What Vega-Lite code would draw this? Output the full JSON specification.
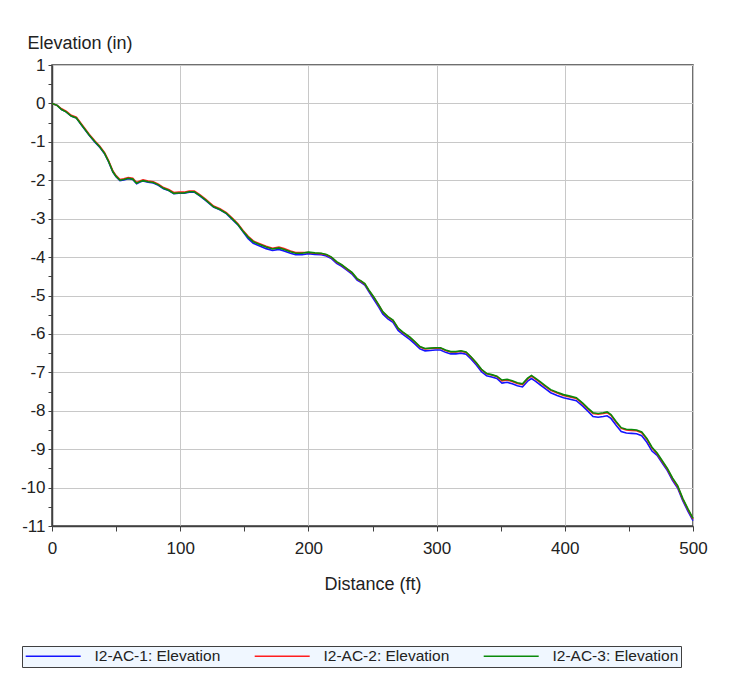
{
  "$schema": "https://vega.github.io/schema/vega-lite/v6.json",
  "width": 641,
  "height": 461,
  "autosize": {"type": "none"},
  "padding": {"left": 52, "top": 65, "right": 50, "bottom": 155},
  "background": "white",
  "config": {
    "font": "Liberation Sans",
    "view": {"stroke": "#404040", "strokeWidth": 1.5}
  },
  "data": {
    "values": [
      {"d": 0, "a": 0, "b": 0, "c": 0},
      {"d": 4, "a": -0.05, "b": -0.05, "c": -0.05},
      {"d": 7.5, "a": -0.16, "b": -0.14, "c": -0.16},
      {"d": 11, "a": -0.22, "b": -0.2, "c": -0.22},
      {"d": 15, "a": -0.33, "b": -0.31, "c": -0.33},
      {"d": 19, "a": -0.38, "b": -0.36, "c": -0.38},
      {"d": 24, "a": -0.61, "b": -0.58, "c": -0.6},
      {"d": 29, "a": -0.83, "b": -0.8, "c": -0.82},
      {"d": 33.5, "a": -1.01, "b": -0.98, "c": -1.0},
      {"d": 37, "a": -1.13, "b": -1.1, "c": -1.12},
      {"d": 41, "a": -1.31, "b": -1.28, "c": -1.3},
      {"d": 44, "a": -1.51, "b": -1.48, "c": -1.5},
      {"d": 47.5, "a": -1.79, "b": -1.76, "c": -1.78},
      {"d": 50, "a": -1.91, "b": -1.88, "c": -1.9},
      {"d": 53, "a": -2.01, "b": -1.98, "c": -2.0},
      {"d": 56, "a": -1.99, "b": -1.96, "c": -1.98},
      {"d": 59.5, "a": -1.96, "b": -1.93, "c": -1.95},
      {"d": 63, "a": -1.98, "b": -1.95, "c": -1.97},
      {"d": 66, "a": -2.09, "b": -2.06, "c": -2.08},
      {"d": 69, "a": -2.04, "b": -2.01, "c": -2.03},
      {"d": 71, "a": -2.02, "b": -1.99, "c": -2.01},
      {"d": 75, "a": -2.05, "b": -2.02, "c": -2.04},
      {"d": 79, "a": -2.07, "b": -2.04, "c": -2.06},
      {"d": 83, "a": -2.13, "b": -2.1, "c": -2.12},
      {"d": 87, "a": -2.22, "b": -2.19, "c": -2.21},
      {"d": 91, "a": -2.27, "b": -2.24, "c": -2.26},
      {"d": 95, "a": -2.35, "b": -2.32, "c": -2.34},
      {"d": 99, "a": -2.34, "b": -2.31, "c": -2.33},
      {"d": 103, "a": -2.34, "b": -2.31, "c": -2.33},
      {"d": 107, "a": -2.31, "b": -2.28, "c": -2.3},
      {"d": 111, "a": -2.31, "b": -2.28, "c": -2.3},
      {"d": 115, "a": -2.4, "b": -2.37, "c": -2.39},
      {"d": 120, "a": -2.53, "b": -2.5, "c": -2.52},
      {"d": 126, "a": -2.7, "b": -2.67, "c": -2.69},
      {"d": 131, "a": -2.77, "b": -2.74, "c": -2.76},
      {"d": 136, "a": -2.87, "b": -2.84, "c": -2.86},
      {"d": 141, "a": -3.03, "b": -3.0, "c": -3.02},
      {"d": 145, "a": -3.16, "b": -3.13, "c": -3.15},
      {"d": 149, "a": -3.34, "b": -3.31, "c": -3.33},
      {"d": 153, "a": -3.52, "b": -3.46, "c": -3.48},
      {"d": 157, "a": -3.64, "b": -3.58, "c": -3.6},
      {"d": 162, "a": -3.71, "b": -3.65, "c": -3.67},
      {"d": 167, "a": -3.78, "b": -3.72, "c": -3.74},
      {"d": 172, "a": -3.83, "b": -3.77, "c": -3.79},
      {"d": 177, "a": -3.8, "b": -3.74, "c": -3.76},
      {"d": 181, "a": -3.84, "b": -3.78, "c": -3.8},
      {"d": 186, "a": -3.9, "b": -3.84, "c": -3.86},
      {"d": 190, "a": -3.94, "b": -3.88, "c": -3.9},
      {"d": 195, "a": -3.94, "b": -3.88, "c": -3.9},
      {"d": 200, "a": -3.91, "b": -3.88, "c": -3.87},
      {"d": 205, "a": -3.93, "b": -3.9, "c": -3.89},
      {"d": 210, "a": -3.94, "b": -3.91, "c": -3.9},
      {"d": 214, "a": -3.97, "b": -3.94, "c": -3.93},
      {"d": 218, "a": -4.04, "b": -4.01, "c": -4.0},
      {"d": 222, "a": -4.16, "b": -4.13, "c": -4.12},
      {"d": 226, "a": -4.24, "b": -4.21, "c": -4.2},
      {"d": 230, "a": -4.34, "b": -4.31, "c": -4.3},
      {"d": 234, "a": -4.44, "b": -4.41, "c": -4.4},
      {"d": 238, "a": -4.6, "b": -4.57, "c": -4.56},
      {"d": 241, "a": -4.66, "b": -4.63, "c": -4.62},
      {"d": 244, "a": -4.73, "b": -4.7, "c": -4.69},
      {"d": 247, "a": -4.89, "b": -4.86, "c": -4.85},
      {"d": 251, "a": -5.1, "b": -5.05, "c": -5.04},
      {"d": 255, "a": -5.31, "b": -5.26, "c": -5.25},
      {"d": 258, "a": -5.48, "b": -5.43, "c": -5.42},
      {"d": 262, "a": -5.61, "b": -5.56, "c": -5.55},
      {"d": 266, "a": -5.7, "b": -5.65, "c": -5.64},
      {"d": 270, "a": -5.91, "b": -5.86, "c": -5.85},
      {"d": 274, "a": -6.02, "b": -5.97, "c": -5.96},
      {"d": 279, "a": -6.14, "b": -6.09, "c": -6.08},
      {"d": 283, "a": -6.26, "b": -6.21, "c": -6.2},
      {"d": 287, "a": -6.39, "b": -6.34, "c": -6.33},
      {"d": 291, "a": -6.44, "b": -6.39, "c": -6.38},
      {"d": 295, "a": -6.43, "b": -6.38, "c": -6.37},
      {"d": 299, "a": -6.42, "b": -6.37, "c": -6.36},
      {"d": 303, "a": -6.42, "b": -6.37, "c": -6.36},
      {"d": 307, "a": -6.48, "b": -6.43, "c": -6.42},
      {"d": 311, "a": -6.52, "b": -6.47, "c": -6.46},
      {"d": 315, "a": -6.52, "b": -6.47, "c": -6.46},
      {"d": 319, "a": -6.5, "b": -6.45, "c": -6.44},
      {"d": 323, "a": -6.53, "b": -6.48, "c": -6.47},
      {"d": 327, "a": -6.66, "b": -6.61, "c": -6.6},
      {"d": 331, "a": -6.81, "b": -6.76, "c": -6.75},
      {"d": 335, "a": -6.98, "b": -6.93, "c": -6.92},
      {"d": 339, "a": -7.09, "b": -7.04, "c": -7.03},
      {"d": 343, "a": -7.12, "b": -7.07, "c": -7.06},
      {"d": 347, "a": -7.16, "b": -7.11, "c": -7.1},
      {"d": 351, "a": -7.28, "b": -7.22, "c": -7.2},
      {"d": 355, "a": -7.26, "b": -7.2, "c": -7.18},
      {"d": 359, "a": -7.3, "b": -7.24, "c": -7.22},
      {"d": 363, "a": -7.35, "b": -7.29, "c": -7.27},
      {"d": 367, "a": -7.38, "b": -7.32, "c": -7.3},
      {"d": 371, "a": -7.23, "b": -7.17, "c": -7.15},
      {"d": 374, "a": -7.16, "b": -7.1, "c": -7.08},
      {"d": 377, "a": -7.23, "b": -7.17, "c": -7.15},
      {"d": 381, "a": -7.33, "b": -7.27, "c": -7.25},
      {"d": 385, "a": -7.43, "b": -7.37, "c": -7.35},
      {"d": 389, "a": -7.53, "b": -7.47, "c": -7.45},
      {"d": 394, "a": -7.6, "b": -7.54, "c": -7.52},
      {"d": 399, "a": -7.66, "b": -7.6, "c": -7.58},
      {"d": 404, "a": -7.7, "b": -7.64, "c": -7.62},
      {"d": 409, "a": -7.74, "b": -7.68, "c": -7.66},
      {"d": 414, "a": -7.88, "b": -7.82, "c": -7.8},
      {"d": 418, "a": -8.01, "b": -7.95, "c": -7.93},
      {"d": 422, "a": -8.15, "b": -8.07, "c": -8.05},
      {"d": 426, "a": -8.17, "b": -8.09, "c": -8.07},
      {"d": 430, "a": -8.15, "b": -8.07, "c": -8.05},
      {"d": 433, "a": -8.13, "b": -8.05, "c": -8.03},
      {"d": 436, "a": -8.2, "b": -8.12, "c": -8.1},
      {"d": 440, "a": -8.38, "b": -8.3, "c": -8.28},
      {"d": 444, "a": -8.54, "b": -8.46, "c": -8.44},
      {"d": 448, "a": -8.58, "b": -8.5, "c": -8.48},
      {"d": 452, "a": -8.59, "b": -8.51, "c": -8.49},
      {"d": 456, "a": -8.6, "b": -8.52, "c": -8.5},
      {"d": 460, "a": -8.65, "b": -8.57, "c": -8.55},
      {"d": 464, "a": -8.82, "b": -8.74, "c": -8.72},
      {"d": 468, "a": -9.05, "b": -8.97, "c": -8.95},
      {"d": 472, "a": -9.16, "b": -9.12, "c": -9.1},
      {"d": 476, "a": -9.36, "b": -9.32, "c": -9.3},
      {"d": 480, "a": -9.56, "b": -9.52, "c": -9.5},
      {"d": 484, "a": -9.81, "b": -9.77, "c": -9.75},
      {"d": 488, "a": -10.01, "b": -9.97, "c": -9.95},
      {"d": 492, "a": -10.34, "b": -10.3, "c": -10.28},
      {"d": 496, "a": -10.61, "b": -10.57, "c": -10.55},
      {"d": 500, "a": -10.86, "b": -10.82, "c": -10.8}
    ]
  },
  "transform": [{"fold": ["a", "b", "c"], "as": ["s", "v"]}],
  "mark": {"type": "line", "strokeWidth": 1.6},
  "encoding": {
    "x": {
      "field": "d",
      "type": "quantitative",
      "scale": {"domain": [0, 500], "nice": false},
      "axis": {
        "title": "Distance (ft)",
        "values": [0, 50, 100, 150, 200, 250, 300, 350, 400, 450, 500],
        "labelExpr": "datum.value % 100 === 0 ? format(datum.value, 'd') : ''",
        "labelFlush": false,
        "labelOverlap": false,
        "gridColor": "#c8c8c8",
        "gridOpacity": {"condition": {"test": "datum.value % 100 === 0", "value": 1}, "value": 0},
        "domainColor": "#404040",
        "domainWidth": 1.5,
        "tickColor": "#404040",
        "tickSize": 5,
        "labelPadding": 9,
        "labelFontSize": 17,
        "labelColor": "#222222",
        "titleFontSize": 18,
        "titleFontWeight": "normal",
        "titleColor": "#222222",
        "titleY": 58,
        "titleBaseline": "middle"
      }
    },
    "y": {
      "field": "v",
      "type": "quantitative",
      "scale": {"domain": [-11, 1], "nice": false, "zero": false},
      "axis": {
        "title": "Elevation (in)",
        "values": [-11, -10.5, -10, -9.5, -9, -8.5, -8, -7.5, -7, -6.5, -6, -5.5, -5, -4.5, -4, -3.5, -3, -2.5, -2, -1.5, -1, -0.5, 0, 0.5, 1],
        "labelExpr": "datum.value % 1 === 0 ? replace(format(datum.value, 'd'), '\u2212', '-') : ''",
        "labelOverlap": false,
        "labelFlush": false,
        "gridColor": "#c8c8c8",
        "gridOpacity": {"condition": {"test": "datum.value % 1 === 0", "value": 1}, "value": 0},
        "domainColor": "#404040",
        "domainWidth": 1.5,
        "tickColor": "#404040",
        "tickSize": 4,
        "labelPadding": 3,
        "labelFontSize": 17,
        "labelColor": "#222222",
        "titleFontSize": 18,
        "titleFontWeight": "normal",
        "titleColor": "#222222",
        "titleAngle": 0,
        "titleAlign": "left",
        "titleBaseline": "middle",
        "titleX": -25,
        "titleY": -22
      }
    },
    "color": {
      "field": "s",
      "type": "nominal",
      "scale": {"domain": ["a", "b", "c"], "range": ["#1414ff", "#ff1e1e", "#0a8a0a"]},
      "legend": {
        "orient": "none",
        "legendX": -30,
        "legendY": 581,
        "direction": "horizontal",
        "title": null,
        "fillColor": "#f0f7ff",
        "strokeColor": "#404040",
        "padding": 2,
        "symbolType": "M-1.1,0H8.9",
        "symbolSize": 121,
        "symbolStrokeWidth": 1.5,
        "labelOffset": 55,
        "columnPadding": 30,
        "gridAlign": "all",
        "labelFontSize": 15.5,
        "labelColor": "#222222",
        "labelLimit": 300,
        "labelExpr": "datum.value == 'a' ? 'I2-AC-1: Elevation' : datum.value == 'b' ? 'I2-AC-2: Elevation' : 'I2-AC-3: Elevation'"
      }
    }
  }
}
